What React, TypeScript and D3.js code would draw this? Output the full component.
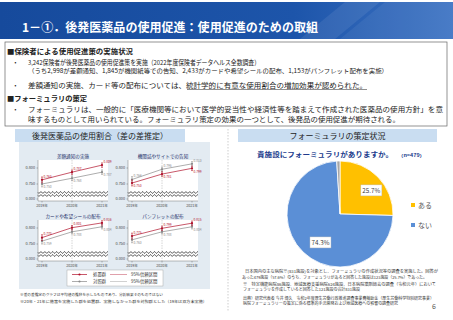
import React from 'react';
import * as d3 from 'd3';

// 差の差推定：4つの施策ごとの平均使用割合
const years = ['2019年', '2020年', '2021年'];
const panelTitles = ['差額通知の実施', '機関誌やサイトでの告知', 'カードや希望シールの配布', 'パンフレットの配布'];
const treated = [
  [0.763, 0.787, 0.809],
  [0.753, 0.781, 0.799],
  [0.770, 0.801, 0.816],
  [0.775, 0.799, 0.815],
];
const control = [
  [0.750, 0.768, 0.787],
  [0.764, 0.796, 0.813],
  [0.759, 0.788, 0.804],
  [0.763, 0.788, 0.804],
];
const ciHalf = [0.009, 0.007, 0.007];
const yTicks = [0.0, 0.75, 0.8];

// フォーミュラリの有無
const pieLabels = ['ある', 'ない', '無回答'];
const pieValues = [25.7, 74.3, 1.0];
const pieText = ['25.7%', '74.3%', ''];
const pieColors = ['#ffc000', '#5b8fd6', '#a6a6a6'];

const FONT = "'Noto Sans CJK JP', sans-serif";
const RED = '#b0102a';
const GRAY = '#8a8a8a';

const W = 453;
const H = 320;

function SmallPanel({ i, x0, y0 }: { i: number; x0: number; y0: number }) {
  const pw = 70;
  const ph = 41;
  const x = d3.scalePoint<string>().domain(years).range([4, 64]);
  const y = d3.scaleLinear().domain([0, 0.73125, 0.825]).range([39, 30, 0]);
  const ln = d3.line<number>().x((_, j) => x(years[j])!).y(d => y(d));
  const wave = (yy: number) => {
    const pts: [number, number][] = d3.range(0, pw + 0.5, 0.5).map(t => [t, yy + Math.sin(t * 1.6) * 0.9]);
    return d3.line()(pts)!;
  };
  const tHigher = treated[i][0] > control[i][0];
  const series = [
    { vals: control[i], color: GRAY, up: !tHigher },
    { vals: treated[i], color: RED, up: tHigher },
  ];
  return (
    <g transform={`translate(${x0},${y0})`}>
      <text x={pw / 2} y={-2.5} textAnchor="middle" fontSize={4.6} fill="#24306a" fontFamily={FONT}>
        {panelTitles[i]}
      </text>
      <rect x={0} y={0} width={pw} height={ph} fill="#fff" />
      <line x1={0} x2={0} y1={0} y2={ph} stroke="#555" strokeWidth={0.4} />
      <line x1={0} x2={pw} y1={ph} y2={ph} stroke="#555" strokeWidth={0.4} />
      <line x1={x('2020年')} x2={x('2020年')} y1={0} y2={ph} stroke="#aaa" strokeWidth={0.5} strokeDasharray="1.5,1" />
      {yTicks.map(t => (
        <g key={t}>
          <line x1={-1.5} x2={0} y1={y(t)} y2={y(t)} stroke="#555" strokeWidth={0.4} />
          <text x={-3} y={y(t) + 1.3} textAnchor="end" fontSize={3.8} fill="#444" fontFamily={FONT}>
            {t.toFixed(3)}
          </text>
        </g>
      ))}
      <path d={wave(32.5)} fill="none" stroke="#333" strokeWidth={0.8} />
      <path d={wave(35.5)} fill="none" stroke="#333" strokeWidth={0.8} />
      {years.map(yr => (
        <g key={yr}>
          <line x1={x(yr)} x2={x(yr)} y1={ph} y2={ph + 1.5} stroke="#555" strokeWidth={0.4} />
          <text x={x(yr)} y={ph + 6} textAnchor="middle" fontSize={3.6} fill="#444" fontFamily={FONT}>
            {yr}
          </text>
        </g>
      ))}
      {series.map((s, k) => (
        <g key={k}>
          <path d={ln(s.vals)!} fill="none" stroke={s.color} strokeWidth={0.7} />
          {s.vals.map((v, j) => {
            const cx = x(years[j])!;
            return (
              <g key={j}>
                <line x1={cx} x2={cx} y1={y(v - ciHalf[j])} y2={y(v + ciHalf[j])} stroke={s.color} strokeWidth={0.6} />
                <line x1={cx - 1} x2={cx + 1} y1={y(v - ciHalf[j])} y2={y(v - ciHalf[j])} stroke={s.color} strokeWidth={0.5} />
                <line x1={cx - 1} x2={cx + 1} y1={y(v + ciHalf[j])} y2={y(v + ciHalf[j])} stroke={s.color} strokeWidth={0.5} />
                <circle cx={cx} cy={y(v)} r={1.1} fill={s.color} />
                <text x={cx + 1.5} y={s.up ? y(v) - 2.2 : y(v) + 4.2} fontSize={3.2} fill={s.color} fontFamily={FONT}>
                  {v.toFixed(3)}
                </text>
              </g>
            );
          })}
        </g>
      ))}
    </g>
  );
}

function Pie() {
  const cx = 340;
  const cy = 214;
  const r = 53;
  const arcs = d3.pie<number>().sort(null)(pieValues);
  const arc = d3.arc<d3.PieArcDatum<number>>().innerRadius(0).outerRadius(r);
  const lab = d3.arc<d3.PieArcDatum<number>>().innerRadius(r * 0.72).outerRadius(r * 0.72);
  return (
    <g>
      <g transform={`translate(${cx},${cy})`}>
        {arcs.map((a, k) => (
          <path key={k} d={arc(a)!} fill={pieColors[k]} stroke="#fff" strokeWidth={0.8} />
        ))}
        {arcs.map((a, k) => {
          if (!pieText[k]) return null;
          const [lx, ly] = lab.centroid(a);
          return (
            <g key={k} transform={`translate(${lx + (k === 0 ? 4 : 7)},${ly + (k === 0 ? 3 : 1)})`}>
              <rect x={-10.5} y={-5.5} width={21} height={11} fill="#fff" stroke="#bbb" strokeWidth={0.4} />
              <text y={2.3} textAnchor="middle" fontSize={6.3} fill="#404040" fontFamily={FONT}>
                {pieText[k]}
              </text>
            </g>
          );
        })}
      </g>
      {pieLabels.slice(0, 2).map((l, k) => (
        <g key={l} transform={`translate(413,${205 + k * 20})`}>
          <rect x={-2} y={-2} width={4} height={4} fill={pieColors[k]} />
          <text x={5} y={2.6} fontSize={7} fill="#595959" fontFamily={FONT}>
            {l}
          </text>
        </g>
      ))}
    </g>
  );
}

export default function App() {
  const boxLines = [
    { t: '3,242保険者が後発医薬品の使用促進策を実施（2022年度保険者データヘルス全数調査）', y: 64.8, fs: 6.8, len: 232, bullet: true },
    { t: '（うち2,998が差額通知、1,845が機関紙等での告知、2,433がカードや希望シールの配布、1,153がパンフレット配布を実施）', y: 73, fs: 6, len: 360, bullet: false },
  ];
  return (
    <svg width={W} height={H} style={{ position: 'absolute', left: 0, top: 0 }}>
      <defs>
        <linearGradient id="hdr" x1="0" x2="1" y1="0" y2="0">
          <stop offset="0" stopColor="#164a9c" />
          <stop offset="0.65" stopColor="#1d55aa" />
          <stop offset="1" stopColor="#3e74c4" />
        </linearGradient>
      </defs>
      <rect x={0} y={0} width={W} height={H} fill="#fff" />
      {/* header */}
      <rect x={0} y={2} width={W} height={37} fill="url(#hdr)" />
      <polygon points="300,39 345,2 380,2 335,39" fill="#ffffff" opacity={0.08} />
      <polygon points="340,39 385,2 453,2 453,39" fill="#ffffff" opacity={0.06} />
      <text x={22} y={31.5} fontSize={12} fontWeight="bold" fill="#fff" fontFamily={FONT} textLength={296} lengthAdjust="spacingAndGlyphs">
        1－①．後発医薬品の使用促進：使用促進のための取組
      </text>

      {/* text box */}
      <rect x={5} y={42} width={442} height={84} fill="#fff" stroke="#666" strokeWidth={0.7} />
      <text x={7} y={54} fontSize={7.2} fontWeight="bold" fill="#222" fontFamily={FONT} textLength={126} lengthAdjust="spacingAndGlyphs">
        ■保険者による使用促進策の実施状況
      </text>
      {boxLines.map(b => (
        <g key={b.t}>
          {b.bullet && (
            <text x={12} y={b.y} fontSize={6.8} fill="#222" fontFamily={FONT}>・</text>
          )}
          <text x={28} y={b.y} fontSize={b.fs} fill="#222" fontFamily={FONT} textLength={b.len} lengthAdjust="spacingAndGlyphs">
            {b.t}
          </text>
        </g>
      ))}
      <text x={12} y={87.5} fontSize={6.8} fill="#222" fontFamily={FONT}>・</text>
      <text x={28} y={87.5} fontSize={6.8} fill="#222" fontFamily={FONT} textLength={339} lengthAdjust="spacingAndGlyphs">
        差額通知の実施、カード等の配布については、統計学的に有意な使用割合の増加効果が認められた。
      </text>
      <line x1={187} x2={367} y1={89.5} y2={89.5} stroke="#222" strokeWidth={0.5} />
      <text x={7} y={101} fontSize={7.2} fontWeight="bold" fill="#222" fontFamily={FONT} textLength={80} lengthAdjust="spacingAndGlyphs">
        ■フォーミュラリの策定
      </text>
      <text x={12} y={112} fontSize={6.8} fill="#222" fontFamily={FONT}>・</text>
      <text x={28} y={112} fontSize={6.8} fill="#222" fontFamily={FONT} textLength={415} lengthAdjust="spacingAndGlyphs">
        フォーミュラリは、一般的に「医療機関等において医学的妥当性や経済性等を踏まえて作成された医薬品の使用方針」を意
      </text>
      <text x={28} y={122} fontSize={6.8} fill="#222" fontFamily={FONT} textLength={372} lengthAdjust="spacingAndGlyphs">
        味するものとして用いられている。フォーミュラリ策定の効果の一つとして、後発品の使用促進が期待される。
      </text>

      {/* left panel */}
      <rect x={15} y={129} width={170} height={13} fill="#c9ddf1" />
      <text x={100} y={138.8} textAnchor="middle" fontSize={8} fill="#222" fontFamily={FONT}>
        後発医薬品の使用割合（差の差推定）
      </text>
      <rect x={19} y={142} width={191} height={147} fill="#e3ebf2" />
      {[0, 1, 2, 3].map(i => (
        <SmallPanel key={i} i={i} x0={38 + (i % 2) * 90} y0={160 + Math.floor(i / 2) * 60} />
      ))}
      <g>
        <rect x={67} y={270} width={96} height={16} fill="#fff" stroke="#999" strokeWidth={0.4} />
        <line x1={72} x2={87} y1={274.5} y2={274.5} stroke={RED} strokeWidth={0.7} />
        <circle cx={79.5} cy={274.5} r={1.1} fill={RED} />
        <text x={93} y={276} fontSize={4.4} fill="#333" fontFamily={FONT}>処置群</text>
        <line x1={110} x2={127} y1={274.5} y2={274.5} stroke={RED} strokeWidth={0.4} />
        <text x={131} y={276} fontSize={4.4} fill="#333" fontFamily={FONT}>95%信頼区間</text>
        <line x1={72} x2={87} y1={281.5} y2={281.5} stroke={GRAY} strokeWidth={0.7} />
        <circle cx={79.5} cy={281.5} r={1.1} fill={GRAY} />
        <text x={93} y={283} fontSize={4.4} fill="#333" fontFamily={FONT}>対照群</text>
        <line x1={110} x2={127} y1={281.5} y2={281.5} stroke={GRAY} strokeWidth={0.4} />
        <text x={131} y={283} fontSize={4.4} fill="#333" fontFamily={FONT}>95%信頼区間</text>
      </g>
      <text x={20} y={295.5} fontSize={3.8} fill="#333" fontFamily={FONT} textLength={143} lengthAdjust="spacingAndGlyphs">
        ※差の差推定のグラフは平均値の推移を示したものであり、分析結果そのものではない
      </text>
      <text x={20} y={302.5} fontSize={3.8} fill="#333" fontFamily={FONT} textLength={187} lengthAdjust="spacingAndGlyphs">
        ※20年・21年に施策を実施した群を処置群、実施しなかった群を対照群とした（19年は双方未実施）
      </text>

      {/* divider */}
      <line x1={228} x2={228} y1={129} y2={311} stroke="#999" strokeWidth={0.5} strokeDasharray="1.5,1.5" />

      {/* right panel */}
      <rect x={238} y={129} width={199} height={13} fill="#c9ddf1" />
      <text x={337.5} y={138.8} textAnchor="middle" fontSize={8} fill="#222" fontFamily={FONT}>
        フォーミュラリの策定状況
      </text>
      <text x={257} y={157} fontSize={6.6} fontWeight="bold" fill="#203a8c" fontFamily={FONT} textLength={136} lengthAdjust="spacingAndGlyphs">
        貴施設にフォーミュラリがありますか。
      </text>
      <text x={398} y={156.5} fontSize={4.2} fontWeight="bold" fill="#203a8c" fontFamily={FONT} textLength={27} lengthAdjust="spacingAndGlyphs">
        （n=479）
      </text>
      <Pie />
      {[
        { t: '日本国内の主な病院※(831施設)を対象とし、フォーミュラリの作成状況等の調査を実施した。回答が', x: 245, y: 273, len: 193 },
        { t: 'あった479施設（57.6%）のうち、フォーミュラリがあると回答した施設は123施設（25.7%）であった。', x: 242, y: 278.5, len: 185 },
        { t: '※　特定機能病院86施設、地域医療支援病院624施設、日本病院薬剤師会の調査（令和元年）において', x: 243, y: 285.5, len: 193 },
        { t: 'フォーミュラリを作成していると回答した121施設の合計831施設', x: 243, y: 291, len: 117 },
        { t: '出典）研究代表者 今井 博久　令和2年度厚生労働行政推進調査事業費補助金（厚生労働科学特別研究事業）', x: 243, y: 299.5, len: 191 },
        { t: '病院フォーミュラリーの策定に係る標準的手法開発および地域医療への影響の調査研究', x: 243, y: 305, len: 155 },
      ].map(n => (
        <text key={n.t} x={n.x} y={n.y} fontSize={4} fill="#333" fontFamily={FONT} textLength={n.len} lengthAdjust="spacingAndGlyphs">
          {n.t}
        </text>
      ))}
      <text x={432} y={309} fontSize={7} fill="#555" fontFamily={FONT}>6</text>
    </svg>
  );
}
